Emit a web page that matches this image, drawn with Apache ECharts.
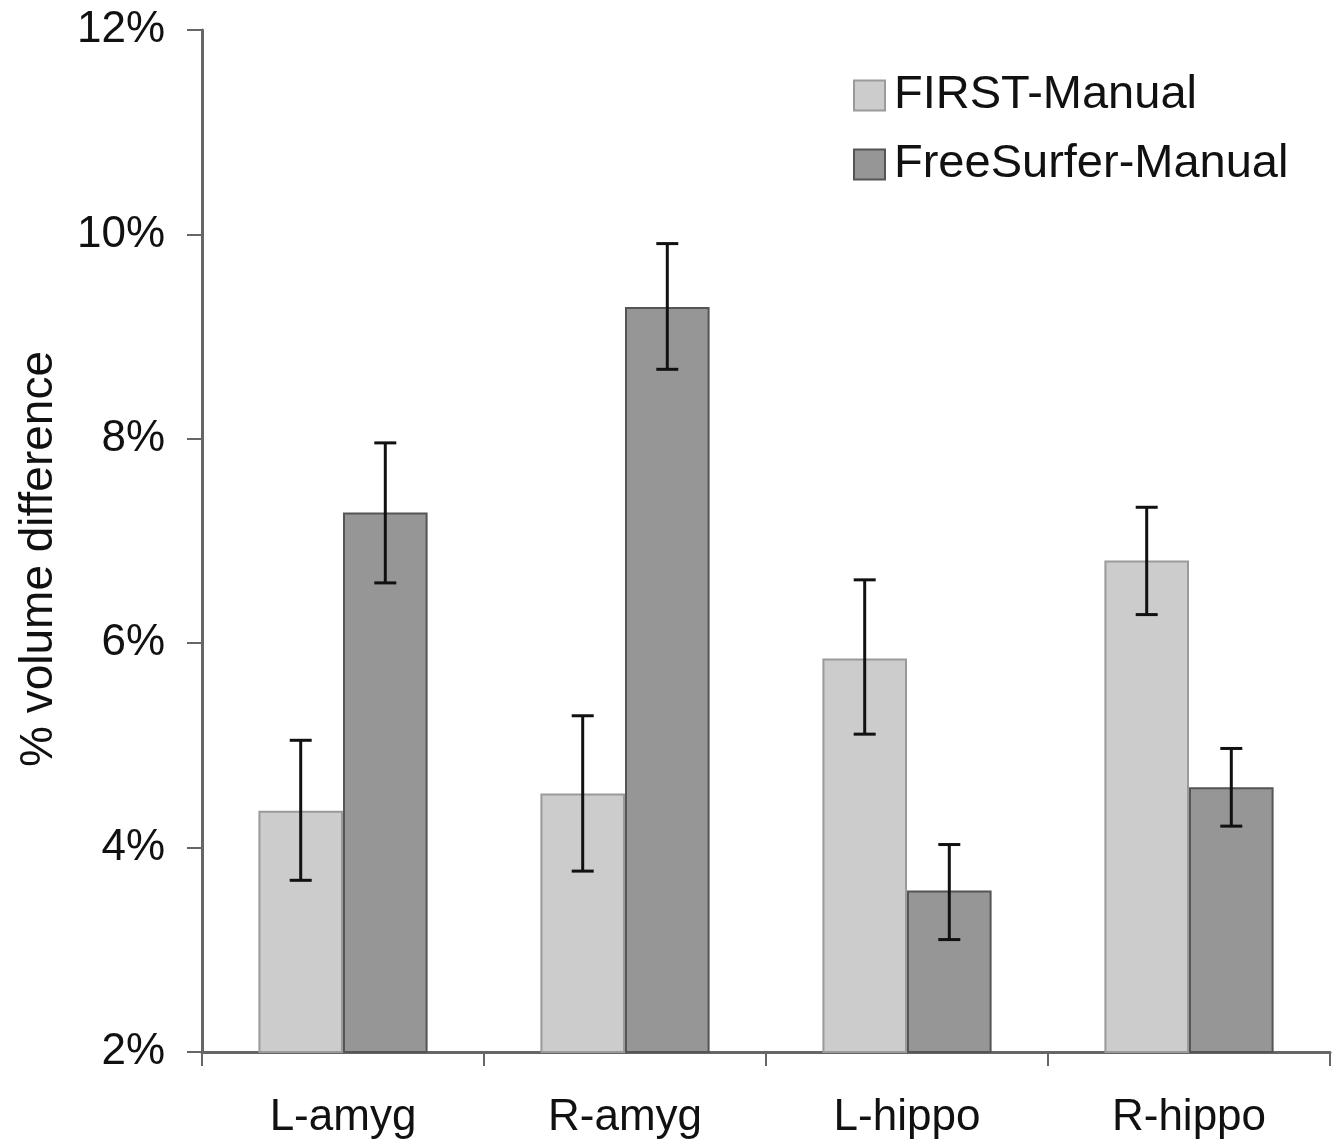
<!DOCTYPE html>
<html>
<head>
<meta charset="utf-8">
<script src="https://cdn.jsdelivr.net/npm/echarts@6/dist/echarts.min.js"></script>
<style>
  html, body { margin: 0; padding: 0; background: #fff; }
  #main { width: 1339px; height: 1146px; }
</style>
</head>
<body>
<div id="main"></div>
<script>
    // data (percent)
    var categories = ['L-amyg', 'R-amyg', 'L-hippo', 'R-hippo'];
    var seriesNames = ['FIRST-Manual', 'FreeSurfer-Manual'];
    var firstValues = [4.36, 4.53, 5.85, 6.81];
    var firstLow = [3.68, 3.77, 5.11, 6.28];
    var firstHigh = [5.05, 5.29, 6.62, 7.33];
    var fsValues = [7.28, 9.29, 3.58, 4.59];
    var fsLow = [6.59, 8.68, 3.10, 4.21];
    var fsHigh = [7.96, 9.91, 4.03, 4.97];
    var yTicks = [2, 4, 6, 8, 10, 12];

    var BAR_FRAC = 0.3;  // bar width as fraction of band (barCategoryGap 40%, barGap 0)

    function errorData(low, high, k) {
        var out = [];
        for (var i = 0; i < categories.length; i++) {
            out.push([i, low[i], high[i], k]);
        }
        return out;
    }

    function renderError(params, api) {
        var idx = api.value(0);
        var band = api.size([1, 0])[0];
        var shift = (api.value(3) === 0 ? -1 : 1) * band * BAR_FRAC / 2;
        var top = api.coord([idx, api.value(2)]);
        var bot = api.coord([idx, api.value(1)]);
        var x = top[0] + shift;
        var cap = 11;
        var style = { stroke: '#111', lineWidth: 3 };
        return {
            type: 'group',
            children: [
                { type: 'line', shape: { x1: x, y1: top[1], x2: x, y2: bot[1] }, style: style },
                { type: 'line', shape: { x1: x - cap, y1: top[1], x2: x + cap, y2: top[1] }, style: style },
                { type: 'line', shape: { x1: x - cap, y1: bot[1], x2: x + cap, y2: bot[1] }, style: style }
            ]
        };
    }

    var chart = echarts.init(document.getElementById('main'));
    var option = {
        backgroundColor: '#fff',
        animation: false,
        textStyle: { fontFamily: 'Liberation Sans, Arial, sans-serif', color: '#111' },
        grid: {
            left: 202, right: 9, top: 30, bottom: 94,
            containLabel: false,
            outerBoundsMode: 'none'
        },
        legend: {
            orient: 'vertical',
            left: 848,
            top: 67,
            icon: 'rect',
            itemWidth: 31,
            itemHeight: 30,
            itemGap: 22,
            selectedMode: false,
            textStyle: { fontSize: 47, color: '#111', padding: [0, 0, 0, 4] },
            data: seriesNames
        },
        xAxis: {
            type: 'category',
            data: categories,
            axisLine: { lineStyle: { color: '#666', width: 3 } },
            axisTick: { show: true, length: 14, lineStyle: { color: '#666', width: 2 } },
            axisLabel: { fontSize: 44, color: '#111', margin: 44 },
            splitLine: { show: false }
        },
        yAxis: {
            type: 'value',
            min: yTicks[0],
            max: yTicks[yTicks.length - 1],
            interval: 2,
            name: '% volume difference',
            nameLocation: 'middle',
            nameGap: 140,
            // right padding nudges the rotated title a bit lower, as in the figure
            nameTextStyle: { fontSize: 46, color: '#111', padding: [0, 36, 0, 0] },
            axisLine: { show: true, lineStyle: { color: '#666', width: 3 } },
            axisTick: { show: true, length: 15, lineStyle: { color: '#666', width: 2 } },
            axisLabel: {
                fontSize: 44, color: '#111', margin: 37,
                formatter: function (v) { return v + '%'; }
            },
            splitLine: { show: false }
        },
        series: [
            {
                name: seriesNames[0],
                type: 'bar',
                data: firstValues,
                barGap: '0%',
                barCategoryGap: '40%',
                itemStyle: { color: '#cccccc', borderColor: '#9a9a9a', borderWidth: 2 }
            },
            {
                name: seriesNames[1],
                type: 'bar',
                data: fsValues,
                barGap: '0%',
                barCategoryGap: '40%',
                itemStyle: { color: '#969696', borderColor: '#555555', borderWidth: 2 }
            },
            {
                type: 'custom',
                renderItem: renderError,
                data: errorData(firstLow, firstHigh, 0),
                z: 10,
                silent: true
            },
            {
                type: 'custom',
                renderItem: renderError,
                data: errorData(fsLow, fsHigh, 1),
                z: 10,
                silent: true
            }
        ]
    };
    chart.setOption(option);
</script>
</body>
</html>
